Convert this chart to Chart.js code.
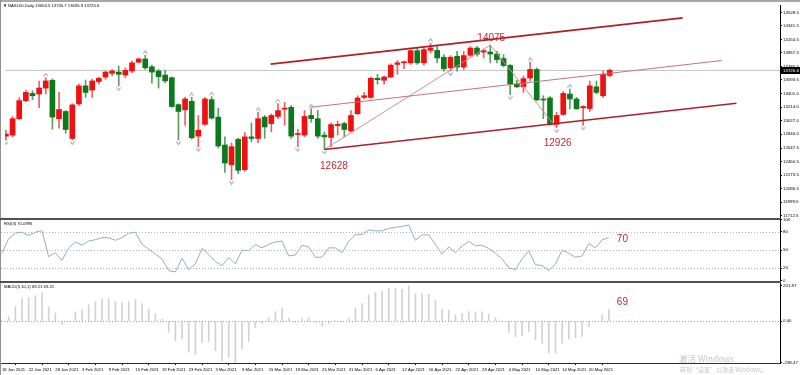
<!DOCTYPE html>
<html><head><meta charset="utf-8">
<script src="https://cdn.jsdelivr.net/npm/chart.js@4.4.1/dist/chart.umd.min.js"></script>
<style>
html,body{margin:0;padding:0;background:#fff;}
#wrap{position:relative;width:800px;height:375px;overflow:hidden;background:#fff;}
canvas{position:absolute;left:0;}
.fr{position:absolute;}
.wm{position:absolute;color:#c4c4c4;font-family:"Noto Sans CJK SC","Liberation Sans",sans-serif;white-space:nowrap;}
</style></head><body>
<div id="wrap">
<div class="fr" style="left:0;top:0;width:800px;height:2px;background:#a8a8a8"></div>
<div class="fr" style="left:0;top:0;width:1px;height:375px;background:#909090"></div>
<div class="fr" style="left:0;top:218px;width:781px;height:2px;background:#505050"></div>
<div class="fr" style="left:0;top:281px;width:781px;height:2px;background:#505050"></div>
<canvas id="cMain" width="800" height="222" style="top:0px"></canvas>
<canvas id="cRsi" width="800" height="68" style="top:216px"></canvas>
<canvas id="cMacd" width="800" height="95" style="top:280px"></canvas>
<div class="wm" style="left:679px;top:352px;font-size:8.5px;">激活 Windows</div>
<div class="wm" style="left:680px;top:365px;font-size:6px;">转到“设置”以激活 Windows。</div>
</div>
<script>
// ---------------- data ----------------
const symbolTitle = 'NAS100,Daily';
const dateLabels = ['18 Jan 2021','22 Jan 2021','28 Jan 2021','3 Feb 2021','9 Feb 2021','15 Feb 2021','19 Feb 2021','23 Feb 2021','3 Mar 2021','9 Mar 2021','15 Mar 2021','19 Mar 2021','25 Mar 2021','31 Mar 2021','6 Apr 2021','12 Apr 2021','16 Apr 2021','22 Apr 2021','28 Apr 2021','4 May 2021','10 May 2021','14 May 2021','20 May 2021'];
const dateTickIndex = [0,4,8,12,16,20,24,28,32,36,40,44,48,52,56,60,64,68,72,76,80,84,88];

const open  = [12813,12827,13055,13305,13405,13397,13479,13588,13055,13155,12781,13260,13510,13451,13569,13633,13684,13701,13660,13715,13838,13883,13774,13715,13660,13624,13250,13178,13295,12813,12977,13319,13077,12690,12417,12768,12348,12803,12781,13077,12987,13086,13187,13213,12836,12827,13100,13055,12827,12795,12959,12987,12885,13123,13350,13350,13615,13588,13633,13807,13830,13829,13998,13829,14002,14002,13907,13760,13920,13770,13934,14034,13979,13979,13952,13889,13793,13533,13496,13619,13738,13328,13342,12977,13114,13397,13328,13205,13196,13496,13373,13654.5];
const high  = [12895,13086,13346,13451,13442,13578,13624,13606,13419,13168,13264,13533,13592,13602,13633,13715,13738,13784,13760,13852,13897,13934,13793,13738,13729,13633,13260,13350,13350,13100,13350,13360,13200,12803,12717,12786,12863,12995,13145,13100,13123,13265,13282,13237,12909,13168,13192,13168,12872,12995,13022,13008,13168,13373,13419,13633,13670,13647,13815,13861,13852,14034,14034,14034,14102,14057,13943,13930,13988,13988,14057,14057,14020,14075,13988,13943,13807,13588,13647,13838,13760,13373,13360,13145,13432,13465,13350,13237,13578,13578,13715,13745.7];
const low   = [12758,12799,13045,13290,13319,13209,13397,12909,12922,12854,12758,13237,13350,13350,13533,13602,13647,13510,13624,13692,13829,13738,13547,13479,13555,13213,12758,12963,12772,12667,12963,13049,12649,12311,12211,12293,12325,12735,12721,12781,12872,13055,12963,12781,12667,12803,13008,12781,12628,12667,12827,12803,12872,13114,13328,13336,13533,13533,13624,13670,13747,13807,13807,13797,13965,13829,13715,13715,13715,13738,13920,13920,13897,13829,13829,13774,13387,13487,13419,13578,13305,13055,12963,12926,13100,13192,13187,12963,13155,13397,13350,13635.9];
const close = [12840,13055,13305,13419,13373,13479,13578,13077,13182,12905,13246,13510,13419,13578,13615,13701,13715,13670,13725,13829,13883,13760,13701,13637,13578,13223,13155,13328,12790,12895,13328,13063,12676,12440,12667,12339,12803,12781,13055,12940,13100,13168,13196,12813,12850,13086,13055,12813,12803,12973,12977,12905,13100,13342,13373,13615,13596,13633,13797,13829,13838,13998,13829,14012,14034,13897,13747,13907,13770,13930,14034,13952,13998,13952,13875,13793,13533,13496,13610,13738,13315,13314,12977,13100,13405,13328,13192,13223,13510,13419,13670,13726.6];

const upFractals   = [6,21,28,31,38,41,46,64,79,85];
const downFractals = [0,10,17,26,29,34,44,48,67,76,83,87];

// trend lines: [bar index, price]
const upperChannel  = [[39.9,13811],[102.0,14453]];
const middleChannel = [[45.9,13213],[107.9,13861]];
const lowerChannel  = [[48,12628],[110.1,13268]];
const zigzag        = [[48,12628],[73,14075],[83,12926]];
const pointLabels   = [{i:73,v:14075},{i:48,v:12628},{i:83,v:12926}];

const priceTicks = [14528.5,14341.5,14154.5,13967.5,13780.5,13593.5,13401.0,13214.0,13027.0,12840.0,12647.5,12460.5,12273.5,12086.5,11899.5,11712.5];
const priceTickLabels = ['14528.5','14341.5','14154.5','13967.5','13780.5','13593.5','13401.0','13214.0','13027.0','12840.0','12647.5','12460.5','12273.5','12086.5','11899.5','11712.5'];

const rsi = [44.5,68.6,77.7,79.3,74,79.3,82,39,45.5,32.6,53.5,63.2,57.9,64.8,67,70.3,70.3,66,70.3,77.7,79.3,59.5,51.4,43.4,35.4,16,14,36.5,17.7,27.3,52.5,42.9,31,24.1,37.5,27.3,49.8,48.7,59,53.5,59.5,63.2,64.8,40.2,41.8,57.9,55.1,38.1,38.1,53.5,53.5,45.5,64.3,75,75.6,83.1,81.5,81.5,85.7,87.3,88.9,91.2,66,75,75,59,42.9,55.1,45.5,56.8,64.3,56.8,57.9,52.5,44.5,35.4,20.4,17.7,35.4,48.7,25.7,24.6,16,26.8,49.8,44.5,38.1,40.2,60.6,53.5,67,70.0995];
const rsiTicks = [0,20,50,80,100];
const rsiTickLabels = ['0','20','50','80','100'];
const rsiLevels = [20,50,80];

const macd = [3,25,84,129,135,147,162,82,46,-17,0,54,65,93,110,126,126,112,107,112,122,101,69,42,10,-64,-112,-102,-178,-191,-121,-116,-169,-226,-207,-238.47,-159,-117,-39,-13,21,55,75,18,-7,15,21,-7,-30,-13,2,-2,18,75,101,150,164,169,189,189,183,201.87,158,158,154,120,69,63,35,44,55,54,54,40,21,0,-64,-89,-83,-59,-108,-127,-184,-184,-127,-102,-96,-87,-32,-2,36,69.21];
const macdTicks = [201.87,0,-238.47];
const macdTickLabels = ['201.87','0.00','-238.47'];

// ---------------- styles / layout ----------------
const X_MIN = -0.144, X_MAX = 116.67;
const AXIS_W = 20;
const tickFont = {size:4.4, family:'Liberation Sans'};
const UP_BODY='#f20f0f', DN_BODY='#0b7a1c', UP_WICK='#e46464', DN_WICK='#5d9b62';
const ANN_COLOR = '#c4282e';
const ANN_FONT = '10px "Liberation Sans", Arial, sans-serif';
const last = close.length - 1;
const idx = close.map((_, i) => i);
const isUp = idx.map(i => close[i] >= open[i]);

function arrowImg(up){
  const c=document.createElement('canvas'); c.width=5; c.height=10;
  const g=c.getContext('2d'); g.strokeStyle='#8c8c8c'; g.lineWidth=1; g.beginPath();
  if(up){ g.moveTo(0.5,3.5); g.lineTo(2.5,0.5); g.lineTo(4.5,3.5); }
  else  { g.moveTo(0.5,6.5); g.lineTo(2.5,9.5); g.lineTo(4.5,6.5); }
  g.stroke(); return c;
}
const upImg = arrowImg(true), dnImg = arrowImg(false);

function yAxis(min, max, ticks, labels){
  return {
    position:'right', min, max,
    afterFit(s){ s.width = AXIS_W; },
    afterBuildTicks(s){ s.ticks = ticks.map(v => ({value:v})); },
    ticks:{autoSkip:false, font:tickFont, color:'#000', padding:1, callback:(v,k)=>labels[k]},
    grid:{drawOnChartArea:false, tickLength:2, color:'#000'},
    border:{color:'#000', width:1}
  };
}
function xAxis(show){
  const o = {type:'linear', min:X_MIN, max:X_MAX, offset:false, display:show};
  if (show){
    Object.assign(o, {
      afterFit(s){ s.height = 12; },
      afterBuildTicks(s){ s.ticks = dateTickIndex.map(v => ({value:v})); },
      ticks:{autoSkip:false, maxRotation:0, align:'start', font:{size:4.2, family:'Liberation Sans'}, color:'#000', padding:2, callback:(v,k)=>dateLabels[k]},
      grid:{drawOnChartArea:false, tickLength:2, color:'#000'},
      border:{color:'#303030', width:1}
    });
  }
  return o;
}
const baseOpts = (pad) => ({
  responsive:false, animation:false, devicePixelRatio:1, events:[],
  layout:{padding:pad},
  plugins:{legend:{display:false}, tooltip:{enabled:false}}
});
const seg = (arr) => arr.map(p => ({x:p[0], y:p[1]}));
const lineDs = (data, color, w, order) => ({type:'line', data, borderColor:color, borderWidth:w, pointRadius:0, tension:0, fill:false, order});

// ---------------- main chart ----------------
const mainDecor = {
  id:'mainDecor',
  beforeDatasetsDraw(chart){
    const {ctx, chartArea:a, scales:{y}} = chart;
    const py = Math.round(y.getPixelForValue(close[last])) + 0.5;
    ctx.save(); ctx.strokeStyle='#c8c8c8'; ctx.lineWidth=1;
    ctx.beginPath(); ctx.moveTo(a.left, py); ctx.lineTo(a.right, py); ctx.stroke(); ctx.restore();
  },
  afterDraw(chart){
    const {ctx, chartArea:a, scales:{x, y}} = chart;
    ctx.save();
    const py = Math.round(y.getPixelForValue(close[last]));
    ctx.fillStyle='#000'; ctx.fillRect(a.right+1, py-3, AXIS_W, 7);
    ctx.fillStyle='#fff'; ctx.font='4.4px "Liberation Sans"'; ctx.textBaseline='middle'; ctx.textAlign='left';
    ctx.fillText(close[last].toFixed(1), a.right+3, py+0.5);
    ctx.fillStyle='#000'; ctx.font='4.2px "Liberation Sans"';
    ctx.fillText('▼', 3, 6);
    ctx.fillText(symbolTitle+' '+open[last].toFixed(1)+' '+high[last].toFixed(1)+' '+low[last].toFixed(1)+' '+close[last].toFixed(1), 8, 6);
    const offs = [[1,-7],[9.5,16.5],[1,15.3]];
    ctx.fillStyle=ANN_COLOR; ctx.font=ANN_FONT; ctx.textAlign='center'; ctx.textBaseline='middle';
    pointLabels.forEach((p,k) => {
      ctx.fillText(String(p.v), x.getPixelForValue(p.i)+offs[k][0], y.getPixelForValue(p.v)+offs[k][1]);
    });
    ctx.restore();
  }
};

new Chart(document.getElementById('cMain'), {
  type:'bar',
  data:{datasets:[
    lineDs(seg(upperChannel), '#b01e28', 1.6, 0),
    lineDs(seg(lowerChannel), '#b01e28', 1.6, 0),
    lineDs(seg(middleChannel), '#c8727c', 1, 0),
    lineDs(seg(zigzag), '#d48c94', 1, 0),
    {type:'bar', data: idx.map(i => ({x:i, y:[open[i], close[i]]})), backgroundColor: idx.map(i => isUp[i]?UP_BODY:DN_BODY), barThickness:5, minBarLength:1, grouped:false, order:1},
    {type:'bar', data: idx.map(i => ({x:i, y:[low[i], high[i]]})), backgroundColor: idx.map(i => isUp[i]?UP_WICK:DN_WICK), barThickness:1, grouped:false, order:2},
    {type:'line', data: upFractals.map(i => ({x:i, y:high[i]})), showLine:false, pointStyle:upImg, pointRadius:3, order:3},
    {type:'line', data: downFractals.map(i => ({x:i, y:low[i]})), showLine:false, pointStyle:dnImg, pointRadius:3, order:3}
  ]},
  options: Object.assign(baseOpts({left:1, right:0, top:3, bottom:4}), {
    scales:{ x: xAxis(false), y: yAxis(11692, 14631, priceTicks, priceTickLabels) }
  }),
  plugins:[mainDecor]
});

// ---------------- RSI ----------------
const rsiDecor = {
  id:'rsiDecor',
  beforeDatasetsDraw(chart){
    const {ctx, chartArea:a, scales:{y}} = chart;
    ctx.save(); ctx.strokeStyle='#b4b4b4'; ctx.lineWidth=1; ctx.setLineDash([1,2]);
    rsiLevels.forEach(l => { const py = Math.round(y.getPixelForValue(l))+0.5; ctx.beginPath(); ctx.moveTo(a.left,py); ctx.lineTo(a.right,py); ctx.stroke(); });
    ctx.restore();
  },
  afterDraw(chart){
    const {ctx, scales:{x, y}} = chart;
    ctx.save();
    ctx.fillStyle='#000'; ctx.font='4.2px "Liberation Sans"'; ctx.textBaseline='middle'; ctx.textAlign='left';
    ctx.fillText('RSI(3) ' + rsi[last].toFixed(4), 4, 7.5);
    ctx.fillStyle=ANN_COLOR; ctx.font=ANN_FONT;
    ctx.fillText(String(Math.round(rsi[last])), x.getPixelForValue(last)+8, y.getPixelForValue(rsi[last])+1.5);
    ctx.restore();
  }
};
new Chart(document.getElementById('cRsi'), {
  type:'line',
  data:{datasets:[ {data: idx.map(i => ({x:i, y:rsi[i]})), borderColor:'#8eb0c8', borderWidth:1, pointRadius:0, tension:0, fill:false} ]},
  options: Object.assign(baseOpts({left:1, right:0, top:3, bottom:3}), {
    scales:{ x: xAxis(false), y: yAxis(0, 100, rsiTicks, rsiTickLabels) }
  }),
  plugins:[rsiDecor]
});

// ---------------- MACD ----------------
const macdDecor = {
  id:'macdDecor',
  afterDatasetsDraw(chart){
    const {ctx, chartArea:a, scales:{x, y}} = chart;
    ctx.save(); ctx.strokeStyle='#e07a86'; ctx.lineWidth=1; ctx.setLineDash([1,2]);
    const py = Math.round(y.getPixelForValue(0))+0.5;
    ctx.beginPath(); ctx.moveTo(a.left,py); ctx.lineTo(a.right,py); ctx.stroke();
    ctx.setLineDash([]);
    ctx.fillStyle='#000'; ctx.font='4.2px "Liberation Sans"'; ctx.textBaseline='middle'; ctx.textAlign='left';
    ctx.fillText('MACD(5,10,1) ' + macd[last].toFixed(2) + ' ' + macd[last].toFixed(2), 4, 6.5);
    ctx.fillStyle=ANN_COLOR; ctx.font=ANN_FONT;
    ctx.fillText(String(Math.round(macd[last])), x.getPixelForValue(last)+8, y.getPixelForValue(macd[last])-6.6);
    ctx.restore();
  }
};
new Chart(document.getElementById('cMacd'), {
  type:'bar',
  data:{datasets:[ {data: idx.map(i => ({x:i, y:macd[i]})), backgroundColor:'#d2d2d2', barThickness:1, grouped:false} ]},
  options: Object.assign(baseOpts({left:1, right:0, top:3, bottom:0}), {
    scales:{ x: xAxis(true), y: yAxis(-240, 215, macdTicks, macdTickLabels) }
  }),
  plugins:[macdDecor]
});
</script>
</body></html>
